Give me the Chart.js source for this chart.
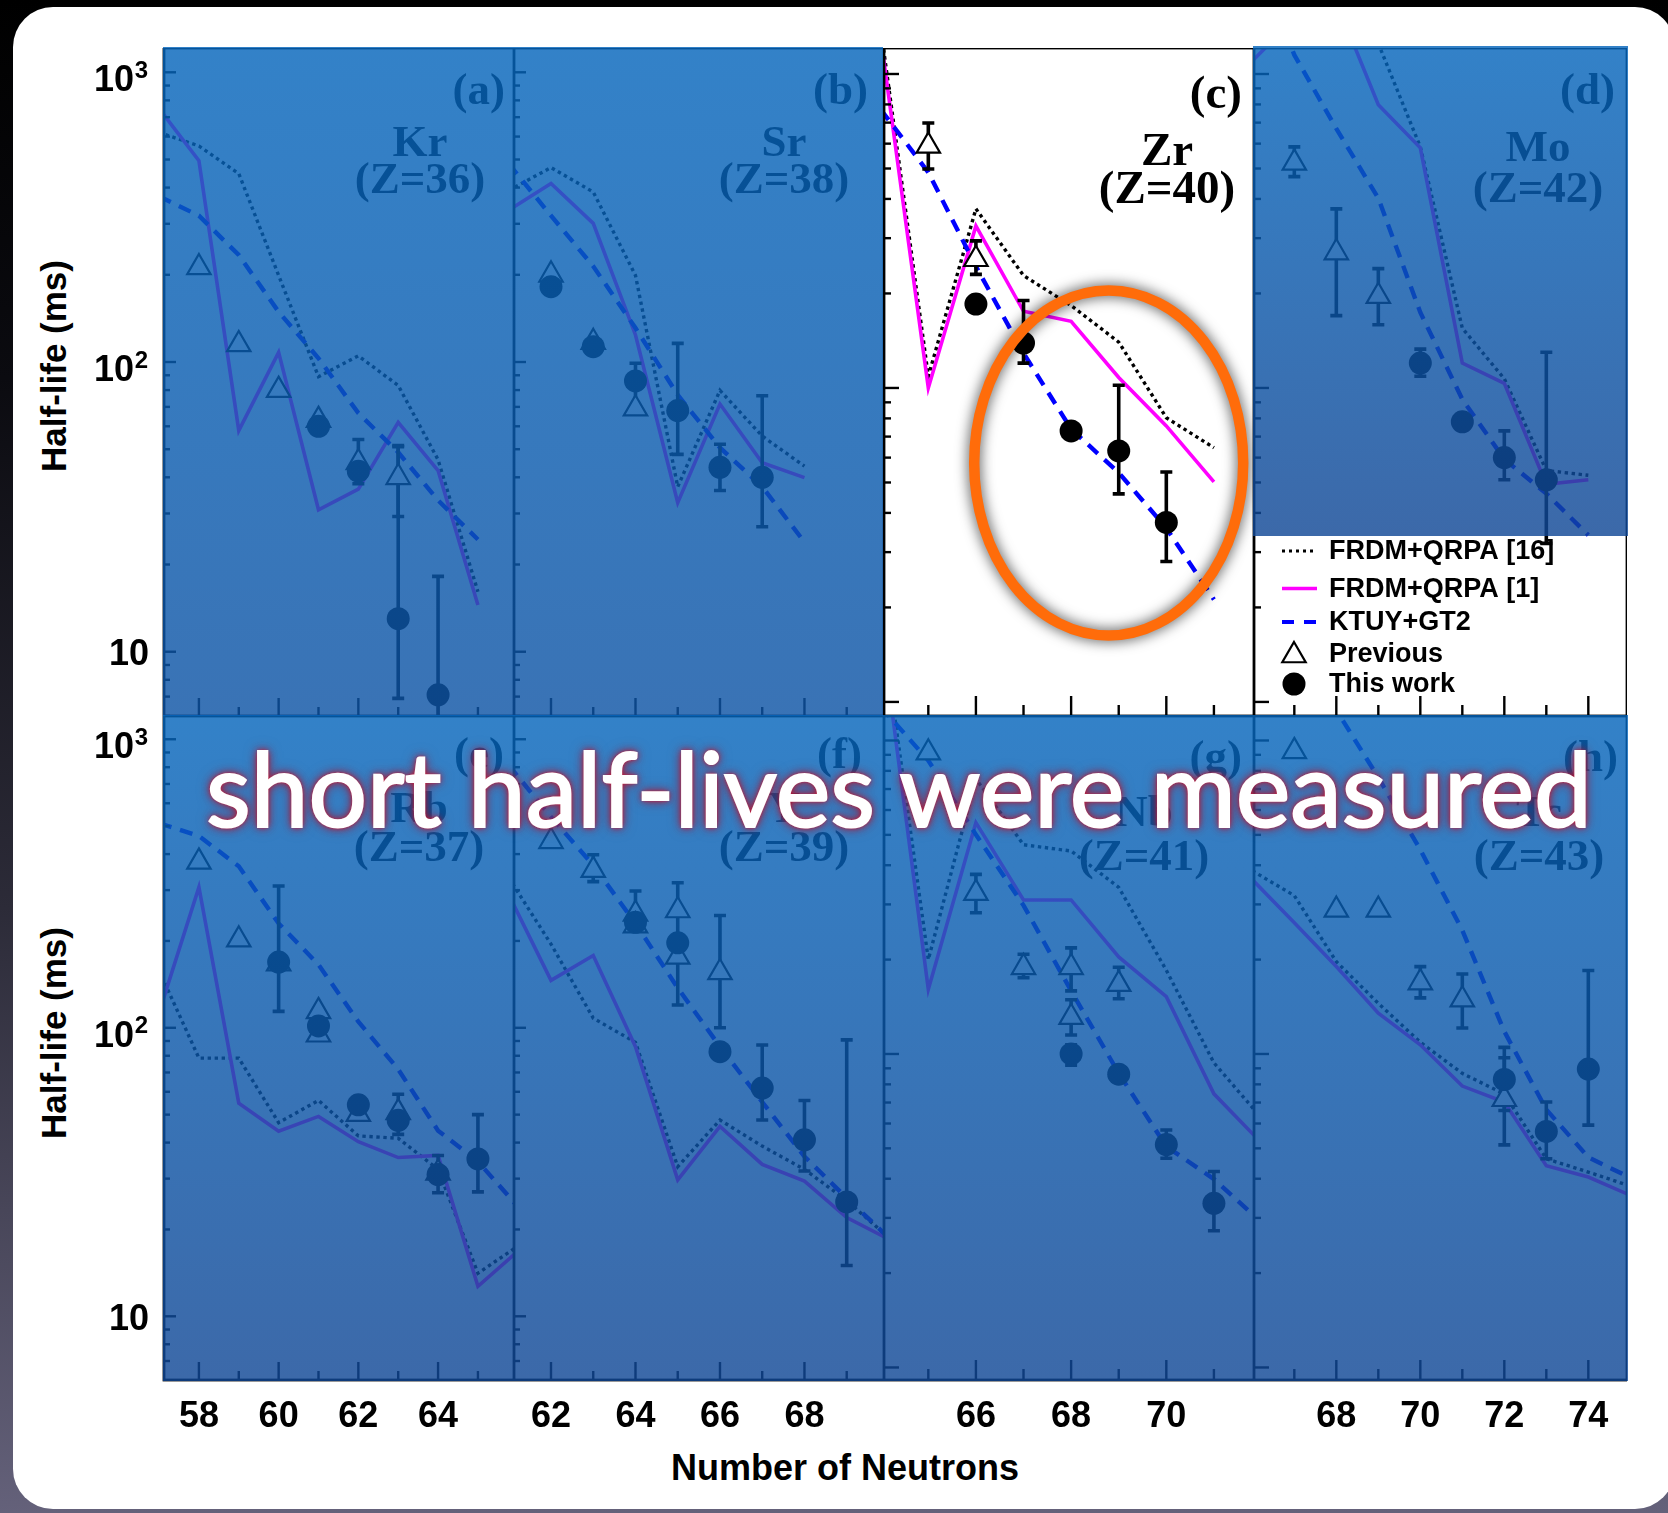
<!DOCTYPE html>
<html>
<head>
<meta charset="utf-8">
<script src="https://cdn.jsdelivr.net/npm/chart.js@4.4.1/dist/chart.umd.min.js"></script>
<style>
  html, body { margin: 0; padding: 0; }
  body {
    width: 1668px; height: 1513px; position: relative; overflow: hidden;
    background: linear-gradient(to bottom, #000 0%, #0b0b10 25%, #2c2b38 60%, #64617a 100%);
  }
  #card { position: absolute; left: 13px; top: 7px; width: 1662px; height: 1502px; background: #fff; border-radius: 40px; }
  canvas { position: absolute; z-index: 1; }
  .shade { position: absolute; z-index: 2; pointer-events: none; }
  .axt { position: absolute; z-index: 1; font: bold 35px "Liberation Sans", Arial, sans-serif; line-height: 1; white-space: nowrap; color: #000; }
  #headline {
    position: absolute; z-index: 3; left: 206px; top: 740px; white-space: nowrap;
    font-family: Lato, "Open Sans", sans-serif; font-size: 100px; line-height: 1; color: #fff;
    -webkit-text-stroke: 2px #fff;
    text-shadow: 0 0 2px rgba(220, 30, 60, 1), 0 0 5px rgba(205, 25, 50, 0.95),
                 0 0 9px rgba(180, 15, 45, 0.85), 0 0 14px rgba(150, 10, 35, 0.6);
  }
</style>
</head>
<body>
<div id="card"></div>

<div class="shade" style="left:163px;top:47px;width:720px;height:669px;background:linear-gradient(rgba(6,102,188,.82),rgba(14,84,165,.82));"></div>
<div class="shade" style="left:1253px;top:46px;width:375px;height:490px;background:linear-gradient(rgba(6,102,188,.82),rgba(17,72,150,.82));"></div>
<div class="shade" style="left:163px;top:715px;width:1465px;height:666px;background:linear-gradient(rgba(6,102,188,.82),rgba(17,72,150,.82));"></div>

<div class="axt" style="left:53px;top:366px;transform:translate(-50%,-50%) rotate(-90deg);">Half-life (ms)</div>
<div class="axt" style="left:53px;top:1033px;transform:translate(-50%,-50%) rotate(-90deg);">Half-life (ms)</div>
<div class="axt" style="left:671px;top:1450px;font-size:36px;">Number of Neutrons</div>

<div id="headline">short half-lives were measured<span id="bl" style="display:inline-block;width:0;height:0;vertical-align:baseline"></span></div>

<script>
// ---- (a) Kr
const krN      = [57, 58, 59, 60, 61, 62, 63, 64, 65];
const krF16    = [620, 557, 447, 199, 89, 105, 83, 46, 16.1];
const krF1     = [750, 495, 58, 108, 30.9, 36.4, 61.9, 42.2, 14.5];
const krKT     = [373, 320, 234, 149, 103, 66.6, 48.8, 33.3, 24.4];
const krPrevN  = [58, 59, 60, 61, 62, 63];
const krPrev   = [212, 115, 80, 63, 45, 40];
const krPrevLo = [null, null, null, null, 38, 29.3];
const krPrevHi = [null, null, null, null, 54, 51.5];
const krWorkN  = [61, 62, 63, 64];
const krWork   = [60, 42, 13, 7.1];
const krWorkLo = [null, null, 6.9, 4];
const krWorkHi = [null, null, 51, 18.2];

// ---- (b) Sr
const srN      = [61, 62, 63, 64, 65, 66, 67, 68];
const srF16    = [391, 469, 386, 199, 37.1, 79.8, 55.5, 43.7];
const srF1     = [334, 413, 301, 124, 32.7, 71.6, 44.9, 39.9];
const srKT     = [483, 320, 214, 131, 77, 50.6, 37.1, 23.9];
const srPrevN  = [62, 63, 64];
const srPrev   = [200, 117, 69];
const srPrevLo = [null, null, null];
const srPrevHi = [null, null, null];
const srWorkN  = [62, 63, 64, 65, 66, 67];
const srWork   = [182, 113, 86, 68, 43.3, 40];
const srWorkLo = [null, null, 70, 48, 36, 27];
const srWorkHi = [null, null, 99, 116, 52, 76.5];

// ---- (c) Zr
const zrN      = [64, 65, 66, 67, 68, 69, 70, 71];
const zrF16    = [1396, 109, 372, 228, 183, 140, 80.4, 64.5];
const zrF1     = [1306, 100, 328, 175.5, 163, 108, 75.7, 50.2];
const zrKT     = [771, 486, 244, 129, 74, 53.7, 35.8, 21.2];
const zrPrevN  = [65, 66];
const zrPrev   = [590, 257];
const zrPrevLo = [498, 230];
const zrPrevHi = [698, 294];
const zrWorkN  = [66, 67, 68, 69, 70];
const zrWork   = [185, 139, 73, 63, 37.3];
const zrWorkLo = [null, 120, null, 46, 28];
const zrWorkHi = [null, 190, null, 102, 54];

// ---- (d) Mo
const moN      = [66, 67, 68, 69, 70, 71, 72, 73, 74];
const moF16    = [3000, 2500, 1800, 1250, 586, 155, 107, 54.6, 52.7];
const moF1     = [1100, 1500, 1700, 798, 582, 120, 103.4, 49.3, 51];
const moKT     = [2500, 1150, 670, 402, 174, 92, 59.3, 46.1, 34];
const moPrevN  = [67, 68, 69];
const moPrev   = [521, 270, 196];
const moPrevLo = [471, 170, 159];
const moPrevHi = [586, 372, 240];
const moWorkN  = [70, 71, 72, 73];
const moWork   = [120, 78, 60, 51];
const moWorkLo = [109, null, 51, 32];
const moWorkHi = [133, null, 73, 130];

// ---- (e) Rb
const rbN      = [57, 58, 59, 60, 61, 62, 63, 64, 65, 66];
const rbF16    = [158, 78.5, 78.5, 46.9, 56, 42.2, 41.4, 32.3, 14.1, 17.5];
const rbF1     = [113, 307, 54.8, 43.8, 49.3, 40.3, 35.5, 36.1, 12.7, 16.8];
const rbKT     = [512, 462, 363, 230, 165.5, 105, 71.8, 44, 34.4, 24];
const rbPrevN  = [58, 59, 60, 61, 61, 62, 63, 64];
const rbPrev   = [376, 202, 167, 114, 94.6, 50.2, 50.9, 31.4];
const rbPrevLo = [null, null, null, null, null, null, 42.7, null];
const rbPrevHi = [null, null, null, null, null, null, 58.8, null];
const rbWorkN  = [60, 61, 62, 63, 64, 65];
const rbWork   = [169, 101.5, 54.1, 47.8, 31, 35.1];
const rbWorkLo = [114, null, null, null, 26.8, 27];
const rbWorkHi = [310, null, null, null, 36.1, 50];

// ---- (f) Y
const yN       = [61, 62, 63, 64, 65, 66, 67, 68, 69, 70];
const yF16     = [331, 195, 108, 89, 33, 47.9, 38.9, 32.3, 25.2, 18.7];
const yF1      = [289, 146, 178, 86, 29.7, 45.5, 33.6, 29.4, 22, 18.5];
const yKT      = [813, 538, 366, 230, 137.4, 86, 55.3, 35.8, 25.7, 18.7];
const yPrevN   = [62, 63, 64, 64, 65, 65, 66];
const yPrev    = [443, 352, 248, 226, 255, 176, 155.5];
const yPrevLo  = [null, 321, 226, null, null, null, 100];
const yPrevHi  = [null, 398, 298, null, null, null, 245];
const yWorkN   = [64, 65, 66, 67, 68, 69];
const yWork    = [232, 197, 82.6, 61.8, 40.9, 24.9];
const yWorkLo  = [null, 120, null, 47.9, 31.9, 15];
const yWorkHi  = [null, 318, null, 87.2, 56, 90.8];

// ---- (g) Nb
const nbN      = [64, 65, 66, 67, 68, 69, 70, 71, 72];
const nbF16    = [2500, 200, 755, 465, 444, 340, 185, 93.7, 62.4];
const nbF1     = [2350, 160.6, 547, 310, 310, 204, 152.4, 74.6, 52];
const nbKT     = [1282, 863, 501, 298, 159, 86.8, 50.7, 39.9, 29];
const nbPrevN  = [65, 66, 67, 68, 68, 69];
const nbPrev   = [914, 326, 189, 189, 131, 167];
const nbPrevLo = [null, 282, 175, 159, 115, 150];
const nbPrevHi = [null, 374, 208, 218, 149, 189];
const nbWorkN  = [68, 69, 70, 71];
const nbWork   = [100, 86.2, 51.4, 33.4];
const nbWorkLo = [92, null, 46.5, 27.3];
const nbWorkHi = [107, null, 57.2, 42.2];

// ---- (h) Tc
const tcN      = [66, 67, 68, 69, 70, 71, 72, 73, 74, 75];
const tcF16    = [384, 320, 197, 145, 109, 86.7, 74.5, 46.3, 42, 37.9];
const tcF1     = [360, 262, 190, 135, 107, 79, 70.3, 44, 40.5, 35.4];
const tcKT     = [3500, 2200, 1250, 762, 448, 248, 118, 66.5, 46.8, 40.3];
const tcPrevN  = [67, 68, 69, 70, 71, 72];
const tcPrev   = [923, 288, 288, 169, 149, 71.7];
const tcPrevLo = [null, null, null, 151, 121, 51.3];
const tcPrevHi = [null, null, null, 190, 180, 97.3];
const tcWorkN  = [72, 73, 74];
const tcWork   = [82.9, 56.6, 89.5];
const tcWorkLo = [66, 46.3, 59.3];
const tcWorkHi = [105, 70.3, 184.6];

// axes: tick labels per column, value ranges per column / row
const xTickLabels = [[58, 60, 62, 64], [62, 64, 66, 68], [66, 68, 70], [68, 70, 72, 74]];
const yTickLabels = [[1000, '3'], [100, '2'], [10, '']];
const xRanges = [[57.124, 65.905], [61.124, 69.883], [64.069, 71.842], [66.04, 74.921]];
const yRanges = [
  [[6.0, 1213], [6.0, 1213], [9.02, 1210], [9.02, 1210]],
  [[6.015, 1204], [6.015, 1204], [9.12, 1197], [9.12, 1197]]
];
const legendItems = ['FRDM+QRPA [16]', 'FRDM+QRPA [1]', 'KTUY+GT2', 'Previous', 'This work'];

// layout of the panel grid (page pixels)
const colX = [[164, 514], [514, 884], [884, 1254], [1254, 1627]];
const rowY = [[48, 716], [716, 1380]];

const panels = [
  {tag: '(a)', name: 'Kr', zl: '(Z=36)', col: 0, row: 0, N: krN, f16: krF16, f1: krF1, kt: krKT,
   prevN: krPrevN, prev: krPrev, prevLo: krPrevLo, prevHi: krPrevHi, workN: krWorkN, work: krWork, workLo: krWorkLo, workHi: krWorkHi, lab: [-9, 56, -94, 108, 145]},
  {tag: '(b)', name: 'Sr', zl: '(Z=38)', col: 1, row: 0, N: srN, f16: srF16, f1: srF1, kt: srKT,
   prevN: srPrevN, prev: srPrev, prevLo: srPrevLo, prevHi: srPrevHi, workN: srWorkN, work: srWork, workLo: srWorkLo, workHi: srWorkHi, lab: [-16, 56, -100, 108, 145]},
  {tag: '(c)', name: 'Zr', zl: '(Z=40)', col: 2, row: 0, N: zrN, f16: zrF16, f1: zrF1, kt: zrKT,
   prevN: zrPrevN, prev: zrPrev, prevLo: zrPrevLo, prevHi: zrPrevHi, workN: zrWorkN, work: zrWork, workLo: zrWorkLo, workHi: zrWorkHi, lab: [-12, 60, -87, 117, 155]},
  {tag: '(d)', name: 'Mo', zl: '(Z=42)', col: 3, row: 0, N: moN, f16: moF16, f1: moF1, kt: moKT,
   prevN: moPrevN, prev: moPrev, prevLo: moPrevLo, prevHi: moPrevHi, workN: moWorkN, work: moWork, workLo: moWorkLo, workHi: moWorkHi, lab: [-12, 56, -89, 113, 154]},
  {tag: '(e)', name: 'Rb', zl: '(Z=37)', col: 0, row: 1, N: rbN, f16: rbF16, f1: rbF1, kt: rbKT,
   prevN: rbPrevN, prev: rbPrev, prevLo: rbPrevLo, prevHi: rbPrevHi, workN: rbWorkN, work: rbWork, workLo: rbWorkLo, workHi: rbWorkHi, lab: [-10, 52, -95, 106, 145]},
  {tag: '(f)', name: 'Y', zl: '(Z=39)', col: 1, row: 1, N: yN, f16: yF16, f1: yF1, kt: yKT,
   prevN: yPrevN, prev: yPrev, prevLo: yPrevLo, prevHi: yPrevHi, workN: yWorkN, work: yWork, workLo: yWorkLo, workHi: yWorkHi, lab: [-22, 52, -100, 106, 145]},
  {tag: '(g)', name: 'Nb', zl: '(Z=41)', col: 2, row: 1, N: nbN, f16: nbF16, f1: nbF1, kt: nbKT,
   prevN: nbPrevN, prev: nbPrev, prevLo: nbPrevLo, prevHi: nbPrevHi, workN: nbWorkN, work: nbWork, workLo: nbWorkLo, workHi: nbWorkHi, lab: [-12, 55, -110, 110, 154]},
  {tag: '(h)', name: 'Tc', zl: '(Z=43)', col: 3, row: 1, N: tcN, f16: tcF16, f1: tcF1, kt: tcKT,
   prevN: tcPrevN, prev: tcPrev, prevLo: tcPrevLo, prevHi: tcPrevHi, workN: tcWorkN, work: tcWork, workLo: tcWorkLo, workHi: tcWorkHi, lab: [-9, 55, -88, 110, 154]}
];

const SANS = '"Liberation Sans", Arial, sans-serif';
const SERIF = '"Liberation Serif", "Times New Roman", serif';

function drawMarker(ctx, kind, x, y) {
  ctx.save();
  if (kind === 'tri') {
    const r = 13.5;
    ctx.beginPath();
    ctx.moveTo(x, y - r);
    ctx.lineTo(x + r * 0.866, y + r / 2);
    ctx.lineTo(x - r * 0.866, y + r / 2);
    ctx.closePath();
    ctx.fillStyle = '#fff'; ctx.fill();
    ctx.lineWidth = 2.2; ctx.strokeStyle = '#000'; ctx.stroke();
  } else {
    ctx.beginPath(); ctx.arc(x, y, 11.5, 0, Math.PI * 2);
    ctx.fillStyle = '#000'; ctx.fill();
  }
  ctx.restore();
}

const panelDecor = {
  id: 'panelDecor',
  beforeDatasetDraw(chart, args) {
    if (args.index !== 1) return;
    const p = chart.canvas.panel;
    const {ctx, chartArea: a} = chart;
    const xs = chart.scales.x, ys = chart.scales.y;
    ctx.save();
    ctx.beginPath(); ctx.rect(a.left, a.top, a.right - a.left, a.bottom - a.top); ctx.clip();
    ctx.strokeStyle = '#000'; ctx.lineWidth = 3.6;
    const bars = (ns, lo, hi) => ns.forEach((n, i) => {
      if (lo[i] == null || hi[i] == null) return;
      const px = xs.getPixelForValue(n);
      const y1 = ys.getPixelForValue(lo[i]), y2 = ys.getPixelForValue(hi[i]);
      ctx.beginPath();
      ctx.moveTo(px, y1); ctx.lineTo(px, y2);
      ctx.moveTo(px - 6, y1); ctx.lineTo(px + 6, y1);
      ctx.moveTo(px - 6, y2); ctx.lineTo(px + 6, y2);
      ctx.stroke();
    });
    bars(p.prevN, p.prevLo, p.prevHi);
    bars(p.workN, p.workLo, p.workHi);
    ctx.restore();
  },
  afterDraw(chart) {
    const p = chart.canvas.panel;
    const {ctx, chartArea: a} = chart;
    const xs = chart.scales.x, ys = chart.scales.y;
    const big = p.col >= 2;
    ctx.save();
    // frame
    ctx.strokeStyle = '#000'; ctx.lineWidth = 2.8;
    ctx.strokeRect(a.left, a.top, a.right - a.left, a.bottom - a.top);
    // y ticks, inward from the left
    ctx.lineWidth = 2.4;
    for (let k = 0; k <= 4; k++) {
      for (let m = 1; m <= 9; m++) {
        const v = m * Math.pow(10, k);
        if (v < ys.min || v > ys.max) continue;
        const py = ys.getPixelForValue(v);
        const len = m === 1 ? (big ? 15 : 12) : (big ? 7 : 6);
        ctx.beginPath(); ctx.moveTo(a.left, py); ctx.lineTo(a.left + len, py); ctx.stroke();
      }
    }
    // x ticks, inward from the bottom
    for (let n = Math.ceil(xs.min); n <= xs.max; n++) {
      const px = xs.getPixelForValue(n);
      const len = n % 2 === 0 ? (big ? 20 : 18) : (big ? 11 : 9);
      ctx.beginPath(); ctx.moveTo(px, a.bottom); ctx.lineTo(px, a.bottom - len); ctx.stroke();
    }
    ctx.fillStyle = '#000';
    // y tick labels
    if (p.col === 0) {
      ctx.textAlign = 'right'; ctx.textBaseline = 'alphabetic';
      yTickLabels.forEach(([v, sup]) => {
        const py = ys.getPixelForValue(v);
        if (sup) {
          ctx.font = 'bold 36px ' + SANS;
          ctx.fillText('10', a.left - 30, py + 19);
          ctx.font = 'bold 24px ' + SANS;
          ctx.fillText(sup, a.left - 16, py + 5.5);
        } else {
          ctx.font = 'bold 36px ' + SANS;
          ctx.fillText('10', a.left - 15, py + 13.5);
        }
      });
    }
    // x tick labels
    if (p.row === 1) {
      ctx.font = 'bold 36px ' + SANS;
      ctx.textAlign = 'center'; ctx.textBaseline = 'alphabetic';
      xTickLabels[p.col].forEach(n => ctx.fillText(String(n), xs.getPixelForValue(n), a.bottom + 47));
    }
    // panel labels
    const [tr, tb, nc, nb, zb] = p.lab;
    const fs = p.tag === '(c)' ? 47 : 45;
    ctx.font = 'bold ' + fs + 'px ' + SERIF;
    ctx.textBaseline = 'alphabetic';
    ctx.textAlign = 'right'; ctx.fillText(p.tag, a.right + tr, a.top + tb);
    ctx.textAlign = 'center';
    ctx.fillText(p.name, a.right + nc, a.top + nb);
    ctx.fillText(p.zl, a.right + nc, a.top + zb);

    // legend lives in panel (d)
    if (p.tag === '(d)') {
      const lx = a.left, ly = a.top;
      const rowsY = [503, 540.5, 574, 605.5, 636];
      ctx.font = 'bold 27px ' + SANS;
      ctx.textAlign = 'left'; ctx.textBaseline = 'middle';
      legendItems.forEach((t, i) => {
        const yy = ly + rowsY[i];
        ctx.save();
        if (i === 0) { ctx.strokeStyle = '#000'; ctx.lineWidth = 3.2; ctx.setLineDash([3, 4]); }
        if (i === 1) { ctx.strokeStyle = '#ff00ff'; ctx.lineWidth = 3.6; }
        if (i === 2) { ctx.strokeStyle = '#0000ff'; ctx.lineWidth = 4.2; ctx.setLineDash([12, 10]); }
        if (i < 3) { ctx.beginPath(); ctx.moveTo(lx + 28, yy); ctx.lineTo(lx + 63, yy); ctx.stroke(); }
        ctx.restore();
        if (i === 3) drawMarker(ctx, 'tri', lx + 40, yy + 2);
        if (i === 4) drawMarker(ctx, 'circ', lx + 40, yy);
        ctx.fillStyle = '#000';
        ctx.fillText(t, lx + 75, yy + 1);
      });
    }

    // highlight ring in panel (c)
    if (p.tag === '(c)') {
      ctx.save();
      ctx.shadowColor = 'rgba(0,0,0,0.75)'; ctx.shadowBlur = 14;
      ctx.strokeStyle = '#ff6c0a'; ctx.lineWidth = 10.5;
      ctx.beginPath();
      ctx.ellipse(a.left + 224.7, a.top + 415, 134.5, 172.5, 0, 0, Math.PI * 2);
      ctx.stroke();
      ctx.restore();
    }
    ctx.restore();
  }
};

const pts = (ns, vs) => ns.map((n, i) => ({x: n, y: vs[i]})).filter(d => d.y != null);

panels.forEach(p => {
  const [x0, x1] = colX[p.col];
  const [y0, y1] = rowY[p.row];
  const padL = p.col === 0 ? x0 : 0;
  const padB = p.row === 1 ? 130 : 0;
  const cv = document.createElement('canvas');
  cv.width = (x1 - x0) + padL;
  cv.height = (y1 - y0) + padB;
  cv.style.left = (x0 - padL) + 'px';
  cv.style.top = y0 + 'px';
  cv.panel = p;
  document.body.appendChild(cv);

  const xr = xRanges[p.col];
  const yr = yRanges[p.row][p.col];
  new Chart(cv, {
    type: 'scatter',
    data: {
      datasets: [
        {label: 'This work', data: pts(p.workN, p.work), pointStyle: 'circle', pointRadius: 11.5,
         backgroundColor: '#000', borderColor: '#000', borderWidth: 0, showLine: false},
        {label: 'Previous', data: pts(p.prevN, p.prev), pointStyle: 'triangle', pointRadius: 13.5,
         backgroundColor: '#fff', borderColor: '#000', borderWidth: 2.2, showLine: false},
        {label: 'KTUY+GT2', data: pts(p.N, p.kt), showLine: true, pointRadius: 0, clip: 0,
         borderColor: '#0000ff', borderWidth: 4.4, borderDash: [13, 9]},
        {label: 'FRDM+QRPA [1]', data: pts(p.N, p.f1), showLine: true, pointRadius: 0, clip: 0,
         borderColor: '#ff00ff', borderWidth: 3.6},
        {label: 'FRDM+QRPA [16]', data: pts(p.N, p.f16), showLine: true, pointRadius: 0, clip: 0,
         borderColor: '#000', borderWidth: 3.4, borderDash: [3.4, 3.6]}
      ]
    },
    options: {
      responsive: false,
      animation: false,
      events: [],
      layout: {autoPadding: false, padding: {left: padL, top: 0, right: 0, bottom: padB}},
      plugins: {legend: {display: false}, tooltip: {enabled: false}},
      scales: {
        x: {type: 'linear', display: false, min: xr[0], max: xr[1]},
        y: {type: 'logarithmic', display: false, min: yr[0], max: yr[1]}
      }
    },
    plugins: [panelDecor]
  });
});

// fit the headline to its width and put its baseline where the reference has it
(function () {
  const h = document.getElementById('headline');
  const w = h.getBoundingClientRect().width;
  h.style.fontSize = (100 * 1386 / w) + 'px';
  const bl = document.getElementById('bl');
  const base = bl.getBoundingClientRect().top;
  h.style.top = (parseFloat(h.style.top || 740) + (827 - base)) + 'px';
})();
</script>
</body>
</html>
